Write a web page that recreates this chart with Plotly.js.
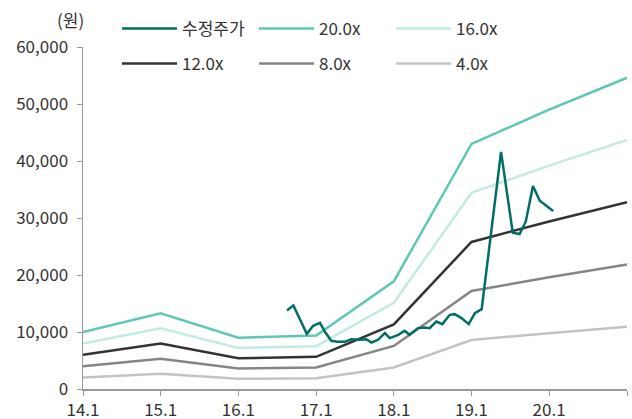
<!DOCTYPE html>
<html>
<head>
<meta charset="utf-8">
<script src="https://cdn.plot.ly/plotly-3.0.1.min.js"></script>
<style>
  html, body { margin: 0; padding: 0; background: #fff; }
  #chart { width: 632px; height: 419px; }
</style>
</head>
<body>
<div id="chart"></div>
<script>
// Year-start points for the PER band lines (last point = 21.1)
const bandDates = ['2014-01-01', '2015-01-01', '2016-01-01', '2017-01-01',
                   '2018-01-01', '2019-01-01', '2020-01-01', '2021-01-01'];
const band20 = [10000, 13300, 9000, 9400, 18900, 43000, 49000, 54600];
const band16 = [8000, 10640, 7200, 7520, 15120, 34400, 39200, 43680];
const band12 = [6000, 7980, 5400, 5640, 11340, 25800, 29400, 32760];
const band8  = [4000, 5320, 3600, 3760, 7560, 17200, 19600, 21840];
const band4  = [2000, 2660, 1800, 1880, 3780, 8600, 9800, 10920];

// Adjusted share price (원)
const priceDates = ['2016-08-17', '2016-09-16', '2016-11-18', '2016-12-18', '2017-01-19',
                    '2017-02-11', '2017-03-13', '2017-04-12', '2017-05-15', '2017-06-15',
                    '2017-07-24', '2017-08-25', '2017-09-18', '2017-10-19', '2017-11-20',
                    '2017-12-13', '2018-01-22', '2018-02-21', '2018-03-16', '2018-04-24',
                    '2018-05-26', '2018-06-18', '2018-07-20', '2018-08-17', '2018-09-21',
                    '2018-10-14', '2018-11-15', '2018-12-19', '2019-01-17', '2019-02-18',
                    '2019-05-20', '2019-07-14', '2019-08-15', '2019-09-13', '2019-10-17',
                    '2019-11-18', '2020-01-20'];
const price = [13760, 14670, 9680, 11080, 11610,
               10030, 8460, 8280, 8280, 8720,
               8630, 8720, 8160, 8630, 9810,
               8930, 9510, 10210, 9510, 10680,
               10790, 10680, 11840, 11380, 13010,
               13130, 12430, 11380, 13310, 14010,
               41600, 27420, 27190, 29350, 35600,
               33020, 31220];

const yTicks = [0, 10000, 20000, 30000, 40000, 50000, 60000];
const fontFamily = 'Noto Sans CJK KR, Noto Sans, sans-serif';
const tickFont = { family: fontFamily, size: 17, color: '#333333' };

function band(name, ys, color, legend, rank) {
  return {
    type: 'scatter', mode: 'lines', name: name,
    x: bandDates, y: ys,
    line: { color: color, width: 2.5 },
    legend: legend, legendrank: rank,
    hoverinfo: 'skip'
  };
}

const traces = [
  band('4.0x', band4, '#c3c3c3', 'legend2', 3),
  band('8.0x', band8, '#858585', 'legend2', 2),
  band('12.0x', band12, '#333333', 'legend2', 1),
  band('16.0x', band16, '#c2ebe3', 'legend', 3),
  band('20.0x', band20, '#5ec8b5', 'legend', 2),
  {
    type: 'scatter', mode: 'lines', name: '수정주가',
    x: priceDates, y: price,
    line: { color: '#006e64', width: 2.5 },
    legend: 'legend', legendrank: 1,
    hoverinfo: 'skip'
  }
];

const legendCommon = {
  orientation: 'h',
  xanchor: 'left', yanchor: 'middle',
  entrywidth: 67, entrywidthmode: 'pixels',
  itemwidth: 55,
  bgcolor: 'rgba(0,0,0,0)',
  font: { family: fontFamily, size: 17, color: '#333333' },
  itemclick: false, itemdoubleclick: false
};

const layout = {
  width: 632, height: 419,
  margin: { l: 83, r: 5, t: 47, b: 30 },
  paper_bgcolor: '#ffffff', plot_bgcolor: '#ffffff',
  showlegend: true,
  xaxis: {
    type: 'date',
    range: ['2014-01-01', '2021-01-01'],
    tickmode: 'linear', tick0: '2014-01-01', dtick: 'M12',
    tickformat: '%y.%-m',
    showgrid: false, zeroline: false,
    showline: true, linecolor: '#999999', linewidth: 1.5,
    ticks: 'outside', ticklen: 5, tickcolor: '#999999',
    tickfont: tickFont
  },
  yaxis: {
    range: [0, 60000],
    tickmode: 'array', tickvals: yTicks,
    tickformat: ',d',
    showgrid: false, zeroline: false,
    showline: true, linecolor: '#999999', linewidth: 1.5,
    ticks: 'outside', ticklen: 5, tickcolor: '#999999',
    ticklabelstandoff: 5,
    tickfont: tickFont
  },
  legend: Object.assign({ x: 0.0625, y: 1.0528 }, legendCommon),
  legend2: Object.assign({ x: 0.0625, y: 0.9503 }, legendCommon),
  annotations: [{
    text: '(원)', xref: 'paper', yref: 'paper',
    x: (70 - 83) / 544, y: 1 + (47 - 20) / 342, xanchor: 'center', yanchor: 'middle',
    showarrow: false,
    font: { family: fontFamily, size: 17, color: '#333333' }
  }]
};

Plotly.newPlot('chart', traces, layout, { staticPlot: true, displayModeBar: false });
</script>
</body>
</html>
